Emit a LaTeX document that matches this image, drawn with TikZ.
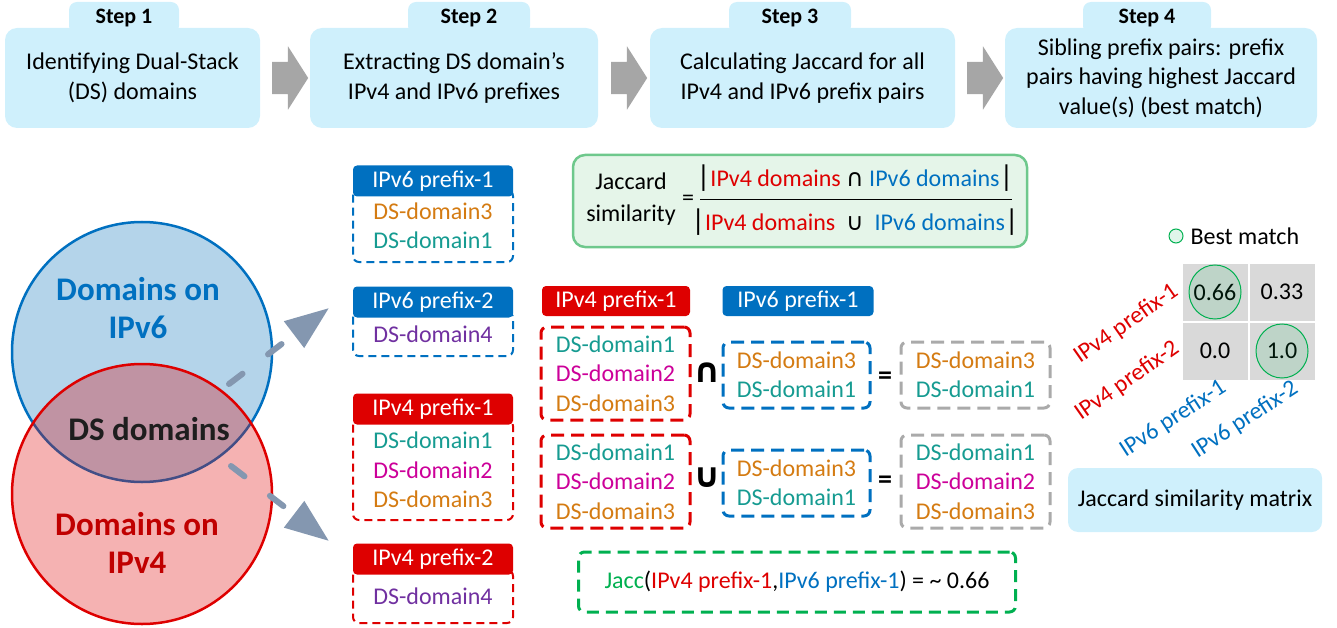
\documentclass[tikz,border=0pt]{standalone}
\usepackage{fontspec}
\setmainfont{Carlito}
\newfontfamily\symfont{DejaVu Sans}
\usetikzlibrary{shapes.arrows,arrows.meta,calc}

\definecolor{stepblue}{RGB}{207,240,252}
\definecolor{arrowgray}{RGB}{166,166,166}
\definecolor{v6blue}{RGB}{0,112,192}
\definecolor{v6fill}{RGB}{180,212,234}
\definecolor{v4red}{RGB}{222,0,0}
\definecolor{v4dark}{RGB}{192,0,0}
\definecolor{dsdark}{RGB}{30,30,30}
\definecolor{slate}{RGB}{132,151,176}
\definecolor{dsteal}{RGB}{22,155,145}
\definecolor{dsmagenta}{RGB}{204,0,153}
\definecolor{dsorange}{RGB}{212,123,18}
\definecolor{dspurple}{RGB}{112,48,160}
\definecolor{grayline}{RGB}{170,170,170}
\definecolor{cellgray}{RGB}{217,217,217}
\definecolor{jaccgreen}{RGB}{0,176,80}
\definecolor{formline}{RGB}{110,200,140}
\definecolor{formfill}{RGB}{229,245,233}

\newcommand{\dsone}{\textcolor{dsteal}{DS-domain1}}
\newcommand{\dstwo}{\textcolor{dsmagenta}{DS-domain2}}
\newcommand{\dsthree}{\textcolor{dsorange}{DS-domain3}}
\newcommand{\dsfour}{\textcolor{dspurple}{DS-domain4}}
\newcommand{\tallbar}{{\fontsize{30}{30}\selectfont|}}

\tikzset{
  txt/.style={font=\fontsize{24}{29.5}\selectfont},
  stepbox/.style={fill=stepblue, rounded corners=12pt, minimum height=100, align=center, txt},
  steptab/.style={fill=stepblue, rounded corners=8pt, minimum height=32, font=\bfseries\fontsize{22}{26}\selectfont},
  flowarrow/.style={single arrow, fill=arrowgray, inner sep=0pt, minimum width=0pt, minimum height=36,
    single arrow head extend=15.5pt, single arrow tip angle=115},
  venntxt/.style={font=\bfseries\fontsize{33}{38}\selectfont, align=center},
  vennarrow/.style={draw=slate, line width=6pt, line cap=round, dash pattern=on 17pt off 32pt,
    -{Triangle[length=44pt,width=32pt]}},
  prefhead/.style={fill=#1, text=white, rounded corners=4pt, minimum width=160, minimum height=31, txt},
  prefbody/.style={draw=#1, line width=2pt, dash pattern=on 8pt off 5pt, rounded corners=6pt,
    minimum width=160, align=center, txt},
  setbox/.style={prefbody=#1, line width=3pt, dash pattern=on 13pt off 7pt},
  opsym/.style={font=\symfont\bfseries\fontsize{34}{34}\selectfont},
  eqsym/.style={font=\bfseries\fontsize{28}{28}\selectfont},
  cell/.style={fill=cellgray, minimum width=65, minimum height=57, txt},
  bestring/.style={draw=jaccgreen, line width=1pt, fill=jaccgreen, fill opacity=0.12},
}

\begin{document}
\begin{tikzpicture}[x=1pt,y=-1pt]
\useasboundingbox (0,0) rectangle (1337,628);

% the four steps
\foreach \i/\cx/\w/\tx/\tw/\txt in {
    1/132.5/255/124/110/{Identifying Dual-Stack\\(DS) domains},
    2/454/288/469/122/{Extracting DS domain's\\IPv4 and IPv6 prefixes},
    3/802.5/305/790/122/{Calculating Jaccard for all\\IPv4 and IPv6 prefix pairs},
    4/1161/312/1147/128/{Sibling prefix pairs: prefix\\pairs having highest Jaccard\\value(s) (best match)}} {
  \node[steptab, minimum width=\tw] (tab\i) at (\tx,18) {Step \i};
  \node[stepbox, minimum width=\w] (step\i) at (\cx,78) {\txt};
}
\foreach \a/\b in {1/2,2/3,3/4}
  \node[flowarrow] (arr\a) at ($(step\a.east)!0.5!(step\b.west)$) {\rule{0pt}{32pt}};

% Venn diagram
\fill[v6fill] (142,352) circle (130);
\draw[v6blue, line width=2.5pt] (142,352) circle (130);
\fill[v4red, opacity=0.3] (142,494) circle (130);
\draw[v4red, line width=2.5pt] (142,494) circle (130);
\node[venntxt, text=v6blue] (v6lbl) at (138,308) {Domains on\\IPv6};
\node[venntxt, text=dsdark] (dslbl) at (149,429) {DS domains};
\node[venntxt, text=v4dark] (v4lbl) at (137,543) {Domains on\\IPv4};

\coordinate (v6from) at (229,384);
\coordinate (v6to) at (329,308);
\coordinate (v4from) at (231,466);
\coordinate (v4to) at (329,541);
\draw[vennarrow] (v6from) -- (v6to);
\draw[vennarrow] (v4from) -- (v4to);

% prefixes of the DS domains
\node[prefbody=v6blue, minimum height=72] (p61body) at (433,226) {\dsthree\\\dsone};
\node[prefhead=v6blue] (p61) at (433,181) {IPv6 prefix-1};
\node[prefbody=v6blue, minimum height=44] (p62body) at (433,334) {\dsfour};
\node[prefhead=v6blue] (p62) at (433,302) {IPv6 prefix-2};
\node[prefbody=v4red, minimum height=100] (p41body) at (433,470) {\dsone\\\dstwo\\\dsthree};
\node[prefhead=v4red] (p41) at (433,409) {IPv4 prefix-1};
\node[prefbody=v4red, minimum height=53] (p42body) at (433,596.5) {\dsfour};
\node[prefhead=v4red] (p42) at (433,559) {IPv4 prefix-2};

% intersection and union
\node[prefhead=v4red, minimum width=148, minimum height=30] (c4) at (616,301) {IPv4 prefix-1};
\node[prefhead=v6blue, minimum width=151, minimum height=30] (c6) at (798,301) {IPv6 prefix-1};

\node[setbox=v4red, minimum width=149, minimum height=93] (i4) at (615.5,373.5) {\dsone\\\dstwo\\\dsthree};
\node[opsym] (icap) at (707,373) {∩};
\node[setbox=v6blue, minimum width=147, minimum height=66] (i6) at (796.5,375) {\dsthree\\\dsone};
\node[eqsym] (ieq) at (885,378) {=};
\node[setbox=grayline, minimum width=149, minimum height=66] (ires) at (975.5,375) {\dsthree\\\dsone};

\node[setbox=v4red, minimum width=149, minimum height=93] (u4) at (615.5,481.5) {\dsone\\\dstwo\\\dsthree};
\node[opsym] (ucup) at (707,478) {∪};
\node[setbox=v6blue, minimum width=147, minimum height=66] (u6) at (796.5,483) {\dsthree\\\dsone};
\node[eqsym] (ueq) at (885,482) {=};
\node[setbox=grayline, minimum width=149, minimum height=93] (ures) at (975.5,481.5) {\dsone\\\dstwo\\\dsthree};

% Jaccard formula
\node[draw=formline, fill=formfill, line width=2.5pt, rounded corners=12pt,
  minimum width=454, minimum height=92] (form) at (800,201) {};
\node[font=\fontsize{24}{32}\selectfont, align=center] (jlbl) at (631,199) {Jaccard\\similarity};
\node[txt] (jeq) at (688,200) {=};
\draw[line width=0.8pt] (700,199) -- (1012,199);
\node[txt] (jnum) at (855,178) {\tallbar\textcolor{v4red}{IPv4 domains} {\symfont∩} \textcolor{v6blue}{IPv6 domains}\tallbar};
\node[txt] (jden) at (855,222) {\tallbar\textcolor{v4red}{IPv4 domains}\ \ {\symfont∪}\ \ \textcolor{v6blue}{IPv6 domains}\tallbar};

% similarity matrix
\node[bestring, circle, minimum size=14, inner sep=0pt] (bm) at (1176,236) {};
\node[txt, anchor=west] (bmlbl) at (1187,236) {Best match};
\foreach \r/\c/\x/\y/\v in {1/1/1215/292/0.66, 1/2/1282/292/0.33, 2/1/1215/351/0.0, 2/2/1282/351/1.0}
  \node[cell] (m\r\c) at (\x,\y) {\v};
\draw[bestring] (m11.center) ellipse (26 and 27);
\draw[bestring] (m22.center) ellipse (26 and 27);
\node[txt, text=v4red, rotate=35] (r1lbl) at (1126,324) {IPv4 prefix-1};
\node[txt, text=v4red, rotate=35] (r2lbl) at (1127,381) {IPv4 prefix-2};
\node[txt, text=v6blue, rotate=33] (c1lbl) at (1173,419) {IPv6 prefix-1};
\node[txt, text=v6blue, rotate=33] (c2lbl) at (1245,420) {IPv6 prefix-2};
\node[stepbox, minimum width=254, minimum height=64, rounded corners=10pt] (mcap) at (1195,500) {Jaccard similarity matrix};

% result
\node[txt, draw=jaccgreen, line width=3pt, dash pattern=on 12pt off 7pt, rounded corners=6pt,
  minimum width=437, minimum height=60] (jacc) at (797,582)
  {\textcolor{jaccgreen}{Jacc}(\textcolor{v4red}{IPv4 prefix-1},\textcolor{v6blue}{IPv6 prefix-1}) = \textasciitilde{} 0.66};
\end{tikzpicture}
\end{document}
